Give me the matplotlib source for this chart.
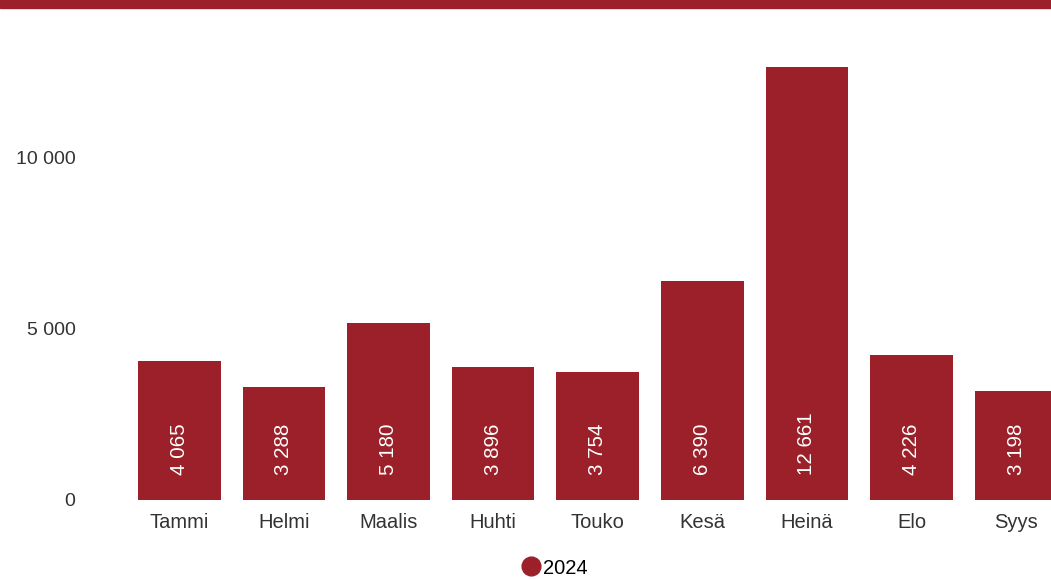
import matplotlib.pyplot as plt
from matplotlib.lines import Line2D
from matplotlib.patches import Rectangle

months = ["Tammi", "Helmi", "Maalis", "Huhti", "Touko", "Kesä", "Heinä", "Elo", "Syys"]
values_2024 = [4065, 3288, 5180, 3896, 3754, 6390, 12661, 4226, 3198]
y_ticks = [0, 5000, 10000]
series_label = "2024"

BAR_COLOR = "#9B2029"
TEXT_COLOR = "#333333"


def fmt(v):
    return f"{v:,}".replace(",", " ")


plt.rcParams["font.family"] = ["Liberation Sans", "DejaVu Sans"]

fig = plt.figure(figsize=(10.51, 5.8), dpi=100)
ax = fig.add_axes([127 / 1051, 80 / 580, 1 - 127 / 1051, (500 - 38) / 580])

x = list(range(len(months)))
ax.bar(x, values_2024, width=0.79, color=BAR_COLOR)

for xi, v in zip(x, values_2024):
    ax.annotate(fmt(v), xy=(xi, 0), xytext=(0, 18), textcoords="offset points",
                rotation=90, ha="center", va="bottom", color="white", fontsize=14.8)

ax.set_xlim(-0.5, -0.5 + 924 / 104.6)
ax.set_ylim(0, 13500)
ax.set_xticks(x)
ax.set_xticklabels(months, fontsize=14.5)
ax.set_yticks(y_ticks)
ax.set_yticklabels([fmt(t) for t in y_ticks], fontsize=14)
ax.tick_params(axis="both", length=0, colors=TEXT_COLOR)
ax.tick_params(axis="y", pad=37)
ax.tick_params(axis="x", pad=9)
for s in ax.spines.values():
    s.set_visible(False)

# band at the top
fig.patches.append(Rectangle((0, 1 - 8 / 580), 1, 8 / 580, transform=fig.transFigure,
                             color=BAR_COLOR, zorder=5))

handle = Line2D([], [], marker="o", linestyle="none", markersize=13.5, color=BAR_COLOR)
fig.legend([handle], [series_label], loc="center", bbox_to_anchor=(553 / 1051, 12 / 580),
           frameon=False, fontsize=14.5, handletextpad=0.0, handlelength=1.2,
           labelcolor="black")

fig.savefig("out.png", dpi=100)
